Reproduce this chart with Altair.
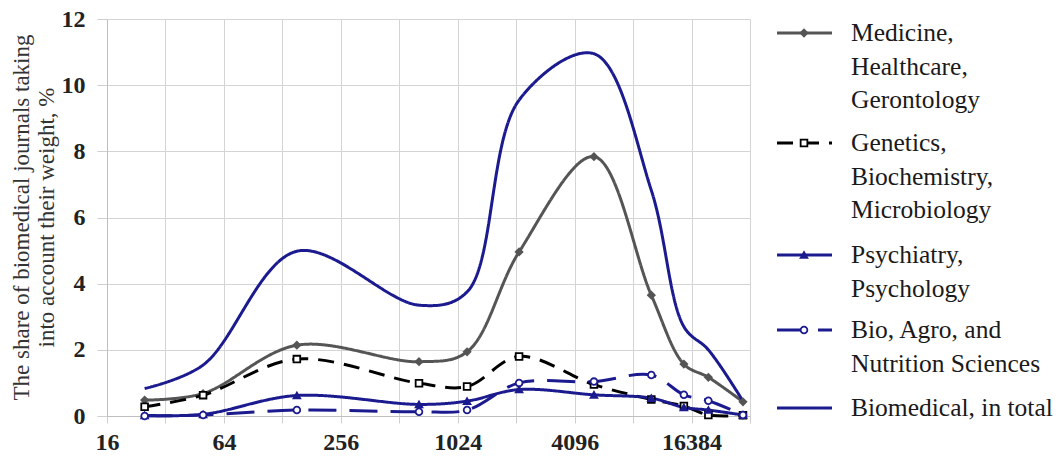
import altair as alt
import pandas as pd

# ---- data ----
sizes = [25, 50, 152, 647, 1144, 2120, 5150, 10170, 14960, 20000, 30150]
medicine = [0.48, 0.68, 2.14, 1.64, 1.94, 4.96, 7.84, 3.65, 1.57, 1.17, 0.43]
genetics = [0.28, 0.63, 1.72, 0.99, 0.89, 1.80, 0.95, 0.50, 0.30, 0.03, 0.02]
psychiatry = [0.02, 0.05, 0.62, 0.35, 0.45, 0.80, 0.64, 0.54, 0.26, 0.18, 0.03]
bio = [0.00, 0.03, 0.18, 0.13, 0.18, 1.00, 1.04, 1.24, 0.64, 0.46, 0.03]
total = [0.83, 1.54, 4.98, 3.35, 3.75, 9.55, 10.95, 6.82, 2.70, 2.00, 0.45]

series_names = [
    "Medicine, Healthcare, Gerontology",
    "Genetics, Biochemistry, Microbiology",
    "Psychiatry, Psychology",
    "Bio, Agro, and Nutrition Sciences",
    "Biomedical, in total",
]
legend_lines = [
    ["Medicine,", "Healthcare,", "Gerontology"],
    ["Genetics,", "Biochemistry,", "Microbiology"],
    ["Psychiatry,", "Psychology"],
    ["Bio, Agro, and", "Nutrition Sciences"],
    ["Biomedical, in total"],
]
x_ticks = [16 * 2 ** i for i in range(12)]
y_ticks = [0, 2, 4, 6, 8, 10, 12]
y_title = ["The share of biomedical journals taking", "into account their weight, %"]

# ---- styles ----
NAVY = "#1b1b8f"
GRAY = "#555555"
colors = [GRAY, "#000000", NAVY, NAVY, NAVY]
dashes = [[1, 0], [16, 10], [1, 0], [28, 13], [1, 0]]
shapes = ["diamond", "square", "triangle-up", "circle"]
fills = [GRAY, "#ffffff", NAVY, "#ffffff"]
FONT = "Liberation Serif"

W, H = 643, 397
PAD = {"left": 107, "top": 19, "right": 309, "bottom": 44}

rows = []
for name, vals in zip(series_names, [medicine, genetics, psychiatry, bio, total]):
    for x, v in zip(sizes, vals):
        rows.append({"series": name, "size": x, "share": v})
df = pd.DataFrame(rows)

xscale = alt.Scale(type="log", base=2, domain=[16, 32768], nice=False)
yscale = alt.Scale(domain=[0, 12], nice=False)

x_enc = alt.X(
    "size:Q",
    scale=xscale,
    axis=alt.Axis(
        values=x_ticks,
        labelExpr="round(log(datum.value)/LN2) % 2 == 0 ? format(datum.value, 'd') : ''",
        title=None,
        labelFont=FONT, labelFontSize=24, labelFontWeight="bold", labelColor="#222222",
        tickSize=7, tickColor="#cfcfcf", labelPadding=7,
        domainColor="#bfbfbf", gridColor="#d4d4d4", grid=True,
        labelFlush=False, labelOverlap=False,
    ),
)
y_enc = alt.Y(
    "share:Q",
    scale=yscale,
    axis=alt.Axis(
        values=y_ticks,
        title=y_title,
        titleFont=FONT, titleFontSize=23, titleFontWeight="normal", titleColor="#333333",
        titleAngle=-90, titleX=-86, titleY=198, titleAlign="center", titleBaseline="middle",
        titleLineHeight=25,
        labelFont=FONT, labelFontSize=24, labelFontWeight="bold", labelColor="#222222",
        tickSize=10, tickColor="#cfcfcf", labelPadding=12,
        domainColor="#bfbfbf", gridColor="#d4d4d4", grid=True,
    ),
)

base = alt.Chart(df)

lines = base.mark_line(interpolate="catmull-rom", strokeWidth=3).encode(
    x=x_enc,
    y=y_enc,
    color=alt.Color("series:N", scale=alt.Scale(domain=series_names, range=colors), legend=None),
    strokeDash=alt.StrokeDash("series:N", scale=alt.Scale(domain=series_names, range=dashes), legend=None),
    order=alt.Order("size:Q"),
)

pts = base.transform_filter(
    alt.FieldOneOfPredicate(field="series", oneOf=series_names[:4])
).mark_point(filled=True, size=45, strokeWidth=1.8, opacity=1).encode(
    x=alt.X("size:Q", scale=xscale),
    y=alt.Y("share:Q", scale=yscale),
    shape=alt.Shape("series:N", scale=alt.Scale(domain=series_names[:4], range=shapes), legend=None),
    fill=alt.Fill("series:N", scale=alt.Scale(domain=series_names[:4], range=fills), legend=None),
    stroke=alt.Stroke("series:N", scale=alt.Scale(domain=series_names[:4], range=colors[:4]), legend=None),
)

# ---- manual legend (pixel positions relative to plot origin) ----
leg_x1, leg_x2, leg_mid, text_x = 670, 725, 697, 744
entry_y = [33, 143, 255, 330, 408]
line_h = 33.7
legend_layers = []
dummy = pd.DataFrame({"a": [0]})
for i, name in enumerate(series_names):
    yc = entry_y[i] - PAD["top"]
    legend_layers.append(
        alt.Chart(dummy).mark_rule(strokeWidth=3, color=colors[i], strokeDash=dashes[i]).encode(
            x=alt.value(leg_x1), x2=alt.value(leg_x2), y=alt.value(yc)
        )
    )
    if i < 4:
        legend_layers.append(
            alt.Chart(dummy).mark_point(
                shape=shapes[i], filled=True, size=45, fill=fills[i], stroke=colors[i],
                strokeWidth=1.8, opacity=1
            ).encode(x=alt.value(leg_mid), y=alt.value(yc))
        )
    for j, txt in enumerate(legend_lines[i]):
        legend_layers.append(
            alt.Chart(dummy).mark_text(
                align="left", baseline="middle", font=FONT, fontSize=25.5, color="#1a1a1a"
            ).encode(x=alt.value(text_x), y=alt.value(yc + j * line_h), text=alt.value(txt))
        )

chart = alt.layer(lines, pts, *legend_layers).properties(
    width=W, height=H, padding=PAD,
    autosize=alt.AutoSizeParams(type="none"),
).configure_view(stroke=None).configure_text(font=FONT).configure(background="white", font=FONT)

chart.save("out.html", embed_options={"renderer": "svg", "actions": False})
